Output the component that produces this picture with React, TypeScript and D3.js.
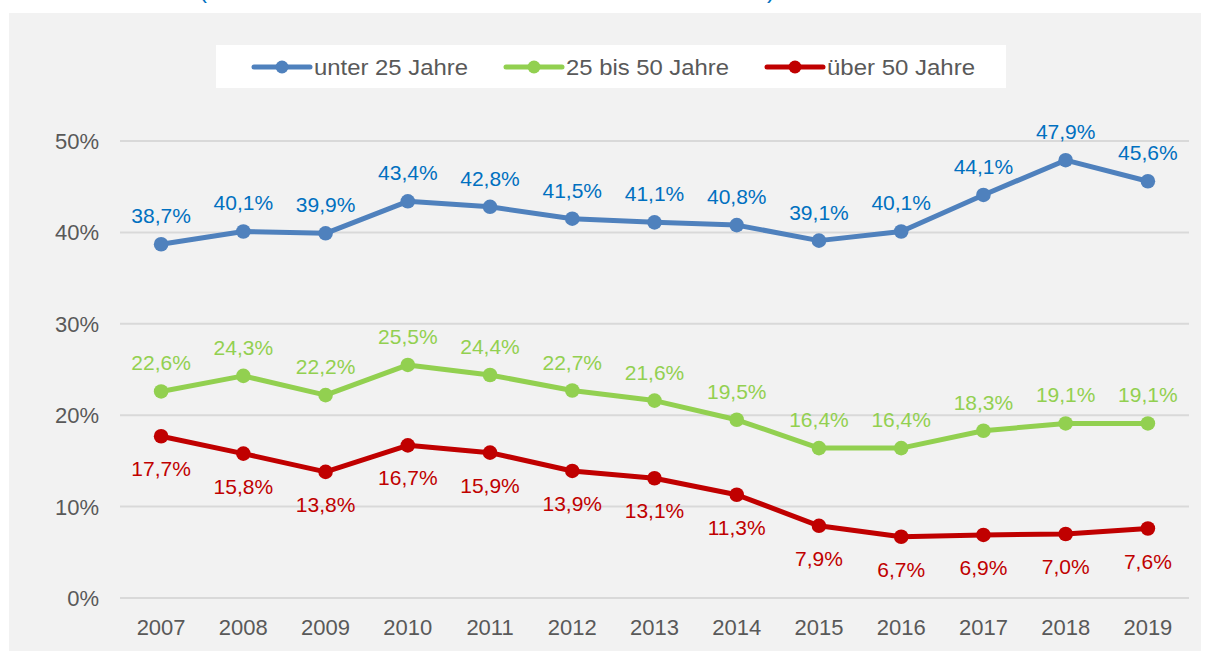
import React from "react";
import * as d3 from "d3";

const years = ["2007","2008","2009","2010","2011","2012","2013","2014","2015","2016","2017","2018","2019"];
const under25 = [38.7, 40.1, 39.9, 43.4, 42.8, 41.5, 41.1, 40.8, 39.1, 40.1, 44.1, 47.9, 45.6];
const mid25to50 = [22.6, 24.3, 22.2, 25.5, 24.4, 22.7, 21.6, 19.5, 16.4, 16.4, 18.3, 19.1, 19.1];
const over50 = [17.7, 15.8, 13.8, 16.7, 15.9, 13.9, 13.1, 11.3, 7.9, 6.7, 6.9, 7.0, 7.6];
const yTicks = [0, 10, 20, 30, 40, 50];
const seriesNames = ["unter 25 Jahre", "25 bis 50 Jahre", "über 50 Jahre"];

const W = 1211, H = 651;
const FONT = "'Liberation Sans', Arial, sans-serif";

const series = [
  { name: seriesNames[0], values: under25, line: "#4F81BD", text: "#0070C0", labelPos: "above" },
  { name: seriesNames[1], values: mid25to50, line: "#92D050", text: "#92D050", labelPos: "above" },
  { name: seriesNames[2], values: over50, line: "#C00000", text: "#C00000", labelPos: "below" },
];

const fmt = (v: number) => v.toFixed(1).replace(".", ",") + "%";

export default function App() {
  const x = d3.scalePoint<string>().domain(years).range([120, 1189]).padding(0.5);
  const y = d3.scaleLinear().domain([0, 50]).range([598, 141]);
  const line = d3.line<number>().x((_, i) => x(years[i]) as number).y((d) => y(d));

  const legendItems = [
    { x0: 254, tx: 314, w: 154 },
    { x0: 506, tx: 566, w: 163 },
    { x0: 767, tx: 827, w: 148 },
  ];

  return (
    <svg width={W} height={H} style={{ position: "absolute", left: 0, top: 0 }} fontFamily={FONT}>
      <rect x={0} y={0} width={W} height={H} fill="#ffffff" />
      {/* cut-off title fragments */}
      <g fill="#0070C0" fontSize={24}>
        <text x={199} y={-2}>(</text>
        <text x={383} y={-3}>,</text>
        <text x={767} y={-2}>)</text>
      </g>
      <rect x={9} y={13} width={1192} height={H - 13} fill="#F2F2F2" />
      {/* legend */}
      <rect x={216} y={45} width={790} height={43} fill="#ffffff" />
      {series.map((s, i) => {
        const li = legendItems[i];
        return (
          <g key={s.name}>
            <line x1={li.x0} x2={li.x0 + 56} y1={67} y2={67} stroke={s.line} strokeWidth={5} strokeLinecap="round" />
            <circle cx={li.x0 + 28} cy={67} r={6.5} fill={s.line} />
            <text x={li.tx} y={75} fontSize={21.5} fill="#595959" textLength={li.w} lengthAdjust="spacingAndGlyphs">{s.name}</text>
          </g>
        );
      })}
      {/* grid + y axis */}
      {yTicks.map((t) => (
        <g key={t}>
          <line x1={120} x2={1189} y1={y(t)} y2={y(t)} stroke="#D9D9D9" strokeWidth={2} />
          <text x={99} y={y(t) + 8} textAnchor="end" fontSize={22} fill="#595959">{t}%</text>
        </g>
      ))}
      {/* x axis labels */}
      {years.map((yr) => (
        <text key={yr} x={x(yr)} y={635} textAnchor="middle" fontSize={22} fill="#595959">{yr}</text>
      ))}
      {/* series */}
      {series.map((s) => (
        <g key={s.name}>
          <path d={line(s.values) || ""} fill="none" stroke={s.line} strokeWidth={5} strokeLinejoin="round" strokeLinecap="round" />
          {s.values.map((v, i) => (
            <circle key={i} cx={x(years[i])} cy={y(v)} r={7.3} fill={s.line} />
          ))}
          {s.values.map((v, i) => (
            <text
              key={"l" + i}
              x={x(years[i])}
              y={s.labelPos === "above" ? y(v) - 21 : y(v) + 40}
              textAnchor="middle"
              fontSize={21}
              fill={s.text}
            >
              {fmt(v)}
            </text>
          ))}
        </g>
      ))}
    </svg>
  );
}
